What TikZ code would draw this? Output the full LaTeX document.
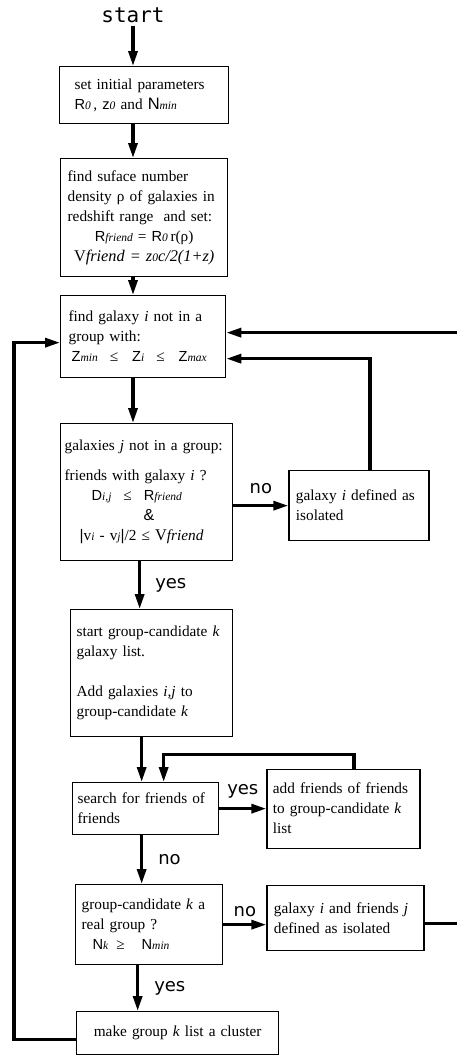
\documentclass[tikz,border=0pt]{standalone}
\usepackage{fontspec}
\setmainfont{Liberation Serif}
\setsansfont{Liberation Sans}
\setmonofont{DejaVu Sans Mono}
\newfontfamily\ynfont{DejaVu Sans}
\usetikzlibrary{arrows.meta,positioning}

\newcommand{\svsub}[1]{{\fontsize{11.5}{14}\selectfont\itshape #1}}
\newcommand{\svar}[2]{{\sffamily\fontsize{14.6}{16}\selectfont #1}\svsub{#2}}
\newcommand{\midline}[1]{\makebox[\hsize]{#1}}

\begin{document}
\begin{tikzpicture}[x=1pt, y=-1pt,
  box/.style={draw, line width=1.3pt, align=left, anchor=north west,
              inner ysep=0pt, font=\fontsize{15.3}{20}\selectfont},
  arr/.style={-{Triangle[length=15pt,width=9pt]}, line width=3.2pt},
  yn/.style={font=\ynfont\fontsize{18}{20}\selectfont, inner sep=2pt}]
\path[use as bounding box, clip] (0,0) rectangle (457,1055);

\node[font=\ttfamily\fontsize{21}{24}\selectfont] (start) at (133,15) {start};
\node[box, text width=139pt, inner xsep=15pt, minimum height=57pt] (init) at (59,66)
  {set initial parameters\\ \svar{R}{0}\,, \svar{z}{0} and {\sffamily\fontsize{16.5}{16}\selectfont N}\svsub{min}};
\node[box, text width=153pt, inner xsep=7pt, minimum height=118pt] (dens) at (60,158)
  {find suface number\\
   density ρ of galaxies in\\
   redshift range\ \ and set:\\
   \midline{\svar{R}{friend} = \svar{R}{0}\,r(ρ)}\\
   \midline{{\fontsize{16.3}{20}\selectfont V\itshape friend = z\svsub{0}c/2(1+z)}}};
\node[box, text width=149pt, inner xsep=8pt, minimum height=82pt] (find) at (60,295)
  {find galaxy \textit{i} not in a\\
   group with:\\
   \hspace*{3pt}\svar{Z}{min}\hspace{12pt}≤\hspace{14pt}\svar{Z}{i}\hspace{12pt}≤\hspace{14pt}\svar{Z}{max}};
\node[box, text width=164pt, inner xsep=4pt, minimum height=137pt] (friends) at (60,423)
  {galaxies \textit{j} not in a group:\\[10pt]
   friends with galaxy \textit{i} ?\\
   \hspace*{27pt}\svar{D}{i,j}\hspace{12pt}≤\hspace{12pt}\svar{R}{friend}\\
   \hspace*{79pt}{\sffamily\fontsize{16}{16}\selectfont\&}\\
   \hspace*{15pt}\textsf{|}v\svsub{i} - v\svsub{j}\textsf{|}/2 ≤ {\fontsize{16.3}{20}\selectfont V}\textit{friend}};
\node[box, text width=126pt, inner xsep=7pt, minimum height=70pt,
      right=55pt of friends, yshift=-13.5pt] (iso1)
  {galaxy \textit{i} defined as\\isolated};
\node[box, text width=150pt, inner xsep=6pt, minimum height=127pt] (cand) at (70,609)
  {start group-candidate \textit{k}\\
   galaxy list.\\[20pt]
   Add galaxies \textit{i,j} to\\
   group-candidate \textit{k}};
\node[box, text width=136pt, inner xsep=5pt, minimum height=52pt] (search) at (72,782)
  {search for friends of\\friends};
\node[box, text width=141pt, inner xsep=6pt, minimum height=79pt,
      right=47pt of search] (addfof)
  {add friends of friends\\to group-candidate \textit{k}\\list};
\node[box, text width=135pt, inner xsep=6pt, minimum height=80pt] (real) at (75,884)
  {group-candidate \textit{k} a\\
   real group ?\\
   \hspace*{11pt}\svar{N}{k}\hspace{8pt}≥\hspace{17pt}\svar{N}{min}};
\node[box, text width=143pt, inner xsep=7pt, minimum height=65pt,
      right=43pt of real, yshift=6.5pt] (iso2)
  {galaxy \textit{i} and friends \textit{j}\\defined as isolated};
\node[box, align=center, text width=186pt, inner xsep=8pt, minimum height=43pt] (cluster) at (76,1011)
  {make group \textit{k} list a cluster};

% main column
\draw[arr] (start) -- (start |- init.north);
\draw[arr] (init.south -| start) -- (dens.north -| start);
\draw[arr] (dens.south -| start) -- (find.north -| start);
\draw[arr] (find.south -| start) -- (friends.north -| start);
\draw[arr] ([xshift=-7pt]friends.south) -- ([xshift=-7pt]friends.south |- cand.north)
  node[yn, midway, right=12pt] {yes};
\draw[arr] ([xshift=-10pt]cand.south) -- ([xshift=-10pt]cand.south |- search.north);
\draw[arr] ([xshift=-4pt]search.south) -- ([xshift=-4pt]search.south |- real.north)
  node[yn, midway, right=13pt] {no};
\draw[arr] ([xshift=-11.5pt]real.south) -- ([xshift=-11.5pt]real.south |- cluster.north)
  node[yn, midway, right=13pt] {yes};

% side branches
\draw[arr] (friends.east |- iso1.west) -- (iso1.west)
  node[yn, midway, above=8pt] {no};
\draw[arr] (search.east) -- (addfof.west)
  node[yn, midway, above=7pt] {yes};
\draw[arr] (real.east) -- (real.east -| iso2.west)
  node[yn, midway, above=4pt] {no};

% loops back
\draw[arr] ([xshift=11pt]iso1.north) |- ([yshift=-22pt]find.east);
\draw[arr] ([yshift=-5pt]iso2.east) -- ++(60,0) |- ([yshift=4pt]find.east);
\draw[arr] ([xshift=10.5pt]addfof.north) -- ++(0,-14) -| ([xshift=18pt]search.north);
\draw[arr] ([yshift=-6pt]cluster.west) -- ++(-62,0) |- ([yshift=-6pt]find.west);
\end{tikzpicture}
\end{document}
